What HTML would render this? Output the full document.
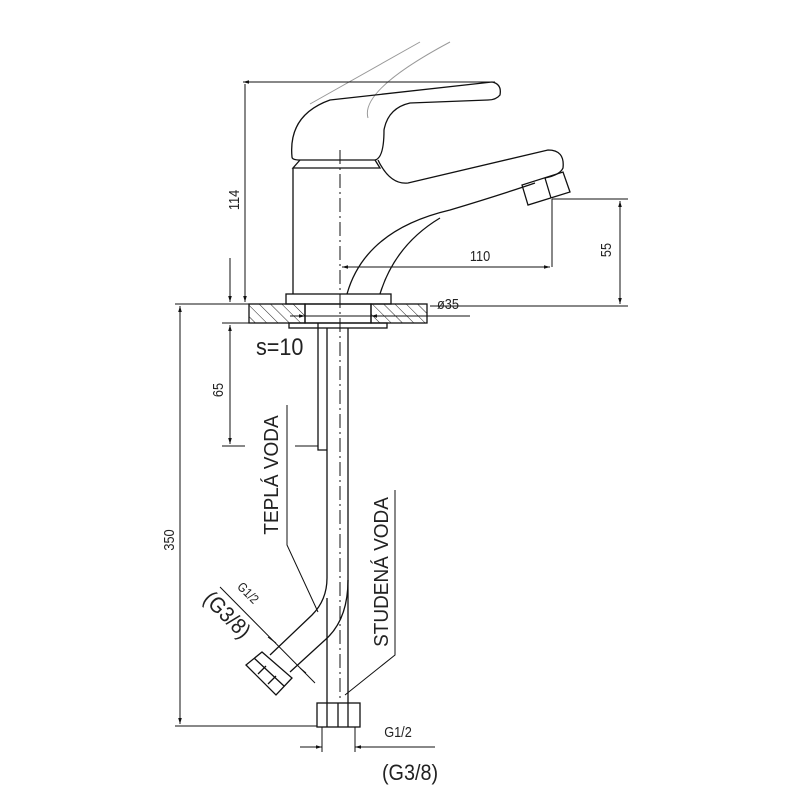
<!DOCTYPE html>
<html><head><meta charset="utf-8"><style>
html,body{margin:0;padding:0;background:#fff;}
svg{display:block;}
text{font-family:"Liberation Sans",sans-serif;fill:#222;}
</style></head><body>
<svg width="800" height="800" viewBox="0 0 800 800" xmlns="http://www.w3.org/2000/svg">
<defs>
<marker id="a" viewBox="0 0 10 10" refX="10" refY="5" markerWidth="8" markerHeight="6" orient="auto-start-reverse"><path d="M0,2 L10,5 L0,8 z" fill="#111"/></marker>
<pattern id="h" width="8" height="8" patternUnits="userSpaceOnUse" patternTransform="rotate(-45)"><line x1="0" y1="0" x2="0" y2="8" stroke="#222" stroke-width="1"/></pattern>
</defs>
<g fill="none" stroke="#111" stroke-width="1.3">
<path d="M310,104 L420,42 M368,118 Q360,90 450,42" stroke="#999" stroke-width="1"/>
<path d="M292,157 Q288,115 330,100 L492,82 Q502,84 500,95 Q496,100 488,100 L410,103 Q388,108 384,130 Q384,158 375,160 L300,160 Q292,160 292,157 z"/>
<path d="M300,160 L293,168 L380,168 L375,160"/>
<path d="M378,160 Q390,185 408,183 L548,150 Q565,150 563,168 Q560,175 545,178"/>
<path d="M522,185 L528,205 L570,192 L563,172 z M545,178 L551,198"/>
<path d="M293,168 L293,294"/>
<path d="M347,294 Q365,230 450,210 Q500,195 535,183"/>
<path d="M380,294 Q395,245 440,218"/>
<rect x="286" y="294" width="105" height="10"/>
<rect x="249" y="304" width="56" height="19" fill="url(#h)"/>
<rect x="371" y="304" width="56" height="19" fill="url(#h)"/>
<rect x="305" y="304" width="66" height="19"/>
<rect x="289" y="323" width="98" height="5"/>
<path d="M318,323 L318,450 L327,450"/>
<path d="M327,328 L327,578 Q327,600 312,615 L270,655"/>
<path d="M348,328 L348,703"/>
<path d="M327,703 L327,598"/>
<path d="M348,580 Q348,620 325,640 L290,672"/>
<path d="M246,665 L262,652 L292,678 L276,695 z M254,658 L284,686 M258,674 L266,666 M268,684 L276,676"/>
<rect x="317" y="703" width="43" height="24"/>
<path d="M327,703 V727 M338,703 V727 M348,703 V727"/>
<path d="M340,150 L340,700" stroke-dasharray="14,4,2,4" stroke-width="1"/>
<path d="M243,82 L495,82 M245,84 L245,302" marker-start="url(#a)" marker-end="url(#a)" stroke-width="1"/>
<path d="M552,199 L628,199 M552,199 L552,267 M430,306 L628,306" stroke-width="1"/>
<path d="M620,201 L620,304" marker-start="url(#a)" marker-end="url(#a)" stroke-width="1"/>
<path d="M342,267 L550,267" marker-start="url(#a)" marker-end="url(#a)" stroke-width="1"/>
<path d="M230,258 L230,302" marker-end="url(#a)" stroke-width="1"/>
<path d="M230,325 L230,444" marker-start="url(#a)" marker-end="url(#a)" stroke-width="1"/>
<path d="M222,304 L250,304 M222,323 L250,323 M222,446 L245,446 M295,446 L318,446 M175,304 L250,304 M175,726 L317,726" stroke-width="1"/>
<path d="M180,306 L180,724" marker-start="url(#a)" marker-end="url(#a)" stroke-width="1"/>
<path d="M290,316 L305,316" marker-end="url(#a)" stroke-width="1"/>
<path d="M386,316 L371,316" marker-end="url(#a)" stroke-width="1"/>
<path d="M305,316 L371,316 M386,316 L470,316" stroke-width="1"/>
<path d="M322,727 V752 M355,727 V752 M300,747 L322,747 M355,747 L435,747" stroke-width="1"/>
<path d="M305,747 L322,747" marker-end="url(#a)" stroke-width="1"/>
<path d="M372,747 L355,747" marker-end="url(#a)" stroke-width="1"/>
<path d="M220,587 L315,683" stroke-width="1"/>
<path d="M268,637 L276,643 M300,668 L306,673" stroke-width="1"/>
<path d="M287,405 L287,545 L318,612" stroke-width="1"/>
<path d="M395,490 L395,655 L345,695" stroke-width="1"/>
</g>
<g font-size="15">
<text transform="translate(239,200) rotate(-90) scale(0.85,1)" text-anchor="middle">114</text>
<text transform="translate(611,250) rotate(-90) scale(0.85,1)" text-anchor="middle">55</text>
<text transform="translate(480,261) scale(0.85,1)" text-anchor="middle">110</text>
<text transform="translate(223,390) rotate(-90) scale(0.85,1)" text-anchor="middle">65</text>
<text transform="translate(174,540) rotate(-90) scale(0.85,1)" text-anchor="middle">350</text>
<text transform="translate(437,309) scale(0.85,1)">ø35</text>
<text transform="translate(398,737) scale(0.85,1)" text-anchor="middle">G1/2</text>
<text transform="translate(245,596) rotate(45) scale(0.85,1)" text-anchor="middle" font-size="13">G1/2</text>
</g>
<text transform="translate(256,355) scale(0.9,1)" font-size="24">s=10</text>
<text transform="translate(278,475) rotate(-90) scale(0.95,1)" text-anchor="middle" font-size="20">TEPLÁ VODA</text>
<text transform="translate(388,572) rotate(-90) scale(0.95,1)" text-anchor="middle" font-size="20">STUDENÁ VODA</text>
<text transform="translate(410,780) scale(0.9,1)" text-anchor="middle" font-size="22">(G3/8)</text>
<text transform="translate(222,620) rotate(45) scale(0.9,1)" text-anchor="middle" font-size="22">(G3/8)</text>
</svg>
</body></html>
